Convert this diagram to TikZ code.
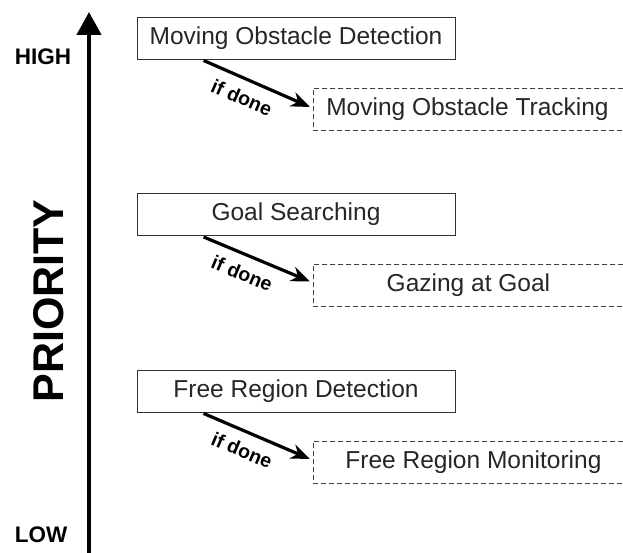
\documentclass[tikz,border=0pt]{standalone}
\usepackage{fontspec}
\setmainfont{Liberation Sans}
\usetikzlibrary{arrows.meta,calc}
\begin{document}
\begin{tikzpicture}[x=1pt,y=1pt,
  taskbox/.style={draw=black!80,line width=0.9pt,minimum width=318pt,minimum height=42pt,inner sep=0pt,font=\fontsize{24.5}{28}\selectfont,text=black!85},
  followbox/.style={draw=black!75,line width=0.9pt,dash pattern=on 5pt off 3pt,minimum width=330pt,minimum height=42pt,inner sep=0pt,anchor=west,font=\fontsize{24.5}{28}\selectfont,text=black!85},
  ifarrow/.style={-{Stealth[length=19pt,width=15pt,inset=6pt]},line width=3.2pt},
  iflabel/.style={font=\bfseries\fontsize{19.5}{22}\selectfont,sloped,below=9pt,pos=0.43,inner sep=1pt},
  axislabel/.style={font=\bfseries\fontsize{22.5}{26}\selectfont}]
\useasboundingbox (0,0) rectangle (623,553);
% priority axis
\coordinate (pbot) at (89,-2);
\coordinate (ptop) at (89,541);
\draw[line width=4.5pt,-{Triangle[length=23pt,width=24pt]}] (pbot) -- (ptop);
\node[axislabel] (high) at (43,496) {HIGH};
\node[axislabel] (low) at (41,18) {LOW};
\node[font=\bfseries\fontsize{43}{48}\selectfont,rotate=90] (prio) at (49,252) {PRIORITY};
% tasks
\node[taskbox] (d1) at (296,515) {Moving Obstacle Detection};
\node[followbox] (t1) at (313,444) {Moving Obstacle Tracking\hspace*{22pt}};
\node[taskbox] (d2) at (296,338.5) {Goal Searching};
\node[followbox] (t2) at (313,267.5) {Gazing at Goal\hspace*{20pt}};
\node[taskbox] (d3) at (296,162) {Free Region Detection};
\node[followbox] (t3) at (313,91) {Free Region Monitoring\hspace*{10pt}};
% connectors
\draw[ifarrow] ($(d1.south west)+(67,-1)$) -- node[iflabel] {if done} ($(t1.west)+(-3,2)$);
\draw[ifarrow] ($(d2.south west)+(67,-1)$) -- node[iflabel] {if done} ($(t2.west)+(-3,4)$);
\draw[ifarrow] ($(d3.south west)+(67,-1)$) -- node[iflabel] {if done} ($(t3.west)+(-3,3)$);
\end{tikzpicture}
\end{document}
